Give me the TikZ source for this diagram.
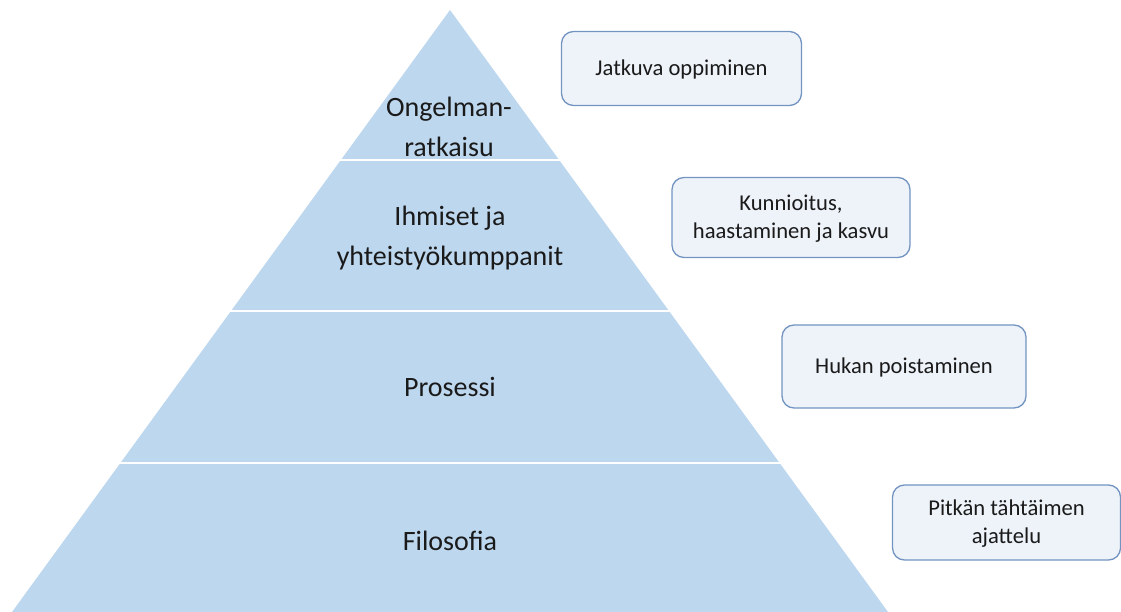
\documentclass[tikz,border=0pt]{standalone}
\usepackage{fontspec}
\setmainfont{Carlito}
\definecolor{layerblue}{HTML}{BDD7EE}
\definecolor{boxfill}{HTML}{EEF3FA}
\definecolor{boxline}{HTML}{7394C0}
\definecolor{txt}{HTML}{1A1A1A}
\begin{document}
\begin{tikzpicture}[x=1pt,y=-1pt,
  layertext/.style={text=txt,font=\fontsize{28}{40}\selectfont,align=center},
  notebox/.style={draw=boxline,fill=boxfill,line width=1.3pt,rounded corners=12pt,
    text=txt,font=\fontsize{22.6}{28}\selectfont,align=center,inner sep=0pt,
    text depth=1pt}]
\useasboundingbox (0,0) rectangle (1121,612);
% pyramid body
\fill[layerblue] (450,10) -- (888,612) -- (12,612) -- cycle;
% white separators between the layers
\foreach \y in {160,311,463}
  \draw[white,line width=1.8pt] (0,\y) -- (1000,\y);
% layer labels
\node[layertext] (top) at (449,127) {Ongelman-\\ratkaisu};
\node[layertext] (people) at (450,238) {Ihmiset ja\\yhteistyökumppanit};
\node[layertext] (process) at (450,387) {Prosessi};
\node[layertext] (philo) at (450,541) {Filosofia};
% side notes
\node[notebox,minimum width=240pt,minimum height=74pt] (n1) at (681.5,68.5) {Jatkuva oppiminen};
\node[notebox,minimum width=238pt,minimum height=80pt] (n2) at (791,217.5) {Kunnioitus,\\haastaminen ja kasvu};
\node[notebox,minimum width=244pt,minimum height=83pt] (n3) at (904,366.5) {Hukan poistaminen};
\node[notebox,minimum width=228pt,minimum height=75pt] (n4) at (1006.5,522.5) {Pitkän tähtäimen\\ajattelu};
\end{tikzpicture}
\end{document}
